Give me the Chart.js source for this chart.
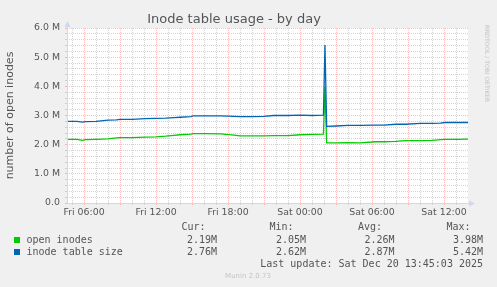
<!DOCTYPE html>
<html>
<head>
<meta charset="utf-8">
<script src="https://cdn.jsdelivr.net/npm/chart.js@4.4.1/dist/chart.umd.min.js"></script>
<style>
  body { margin: 0; background: #F0F0F0; }
  #wrap { width: 497px; height: 287px; }
</style>
</head>
<body>
<div id="wrap"><canvas id="inodeChart" width="497" height="287"></canvas></div>
<script>
// data (hours counted from Fri 00:00, values in millions)
const hours = [4.6, 5.4, 5.9, 6.1, 7, 8, 8.7, 9, 10, 11.1, 12, 12.8, 13.5, 14, 14.9, 15.1, 16, 17.4, 18.5, 19, 20, 21, 21.8, 23, 24, 25, 25.95, 26.08, 26.22, 27, 28, 29, 30.3, 31, 32, 32.8, 34, 35, 35.7, 36.1, 37, 38];
const openInodes = [2.18, 2.18, 2.15, 2.17, 2.18, 2.20, 2.23, 2.24, 2.24, 2.26, 2.27, 2.29, 2.32, 2.34, 2.36, 2.38, 2.38, 2.37, 2.33, 2.30, 2.30, 2.30, 2.31, 2.31, 2.34, 2.35, 2.36, 3.98, 2.06, 2.06, 2.07, 2.06, 2.10, 2.10, 2.11, 2.14, 2.14, 2.15, 2.17, 2.18, 2.18, 2.19];
const tableSize = [2.80, 2.80, 2.77, 2.79, 2.80, 2.84, 2.85, 2.87, 2.87, 2.89, 2.90, 2.91, 2.93, 2.94, 2.96, 2.99, 2.99, 2.99, 2.97, 2.96, 2.96, 2.97, 3.00, 3.00, 3.01, 3.00, 3.01, 5.42, 2.63, 2.64, 2.66, 2.66, 2.67, 2.67, 2.70, 2.70, 2.73, 2.73, 2.74, 2.76, 2.76, 2.76];

const seriesNames = ['open inodes', 'inode table size'];
const seriesColors = ['#00CC00', '#0066B3'];
const statCur = ['2.19M', '2.76M'];
const statMin = ['2.05M', '2.62M'];
const statAvg = ['2.26M', '2.87M'];
const statMax = ['3.98M', '5.42M'];

const xTickHours = [6, 12, 18, 24, 30, 36];
const xTickLabels = ['Fri 06:00', 'Fri 12:00', 'Fri 18:00', 'Sat 00:00', 'Sat 06:00', 'Sat 12:00'];
const yTickLabels = ['0.0', '1.0 M', '2.0 M', '3.0 M', '4.0 M', '5.0 M', '6.0 M'];

const xMin = 4.58, xMax = 38;
const lastUpdate = 'Last update: Sat Dec 20 13:45:03 2025';

Chart.defaults.font.family = 'DejaVu Sans';
Chart.defaults.color = '#666666';

const majorGrid = 'rgba(255, 95, 95, 0.42)';
const minorGrid = 'rgba(170, 170, 170, 0.5)';

function isWhole(v) {
    return Math.abs(v - Math.round(v)) < 1e-6;
}

// white canvas, axis arrows and the munin legend
const muninDecor = {
    id: 'muninDecor',
    beforeDraw(chart) {
        const a = chart.chartArea;
        const ctx = chart.ctx;
        ctx.save();
        ctx.fillStyle = '#FFFFFF';
        ctx.fillRect(a.left, a.top, a.right - a.left, a.bottom - a.top);
        ctx.restore();
    },
    afterDraw(chart) {
        const a = chart.chartArea;
        const ctx = chart.ctx;
        ctx.save();

        // axis lines with arrows
        ctx.strokeStyle = '#CFD6F8';
        ctx.fillStyle = '#CFD6F8';
        ctx.lineWidth = 1;
        ctx.beginPath();
        ctx.moveTo(a.left + 0.5, a.bottom + 0.5);
        ctx.lineTo(a.left + 0.5, a.top - 4);
        ctx.moveTo(a.left, a.bottom + 0.5);
        ctx.lineTo(a.right + 3, a.bottom + 0.5);
        ctx.stroke();
        ctx.beginPath();
        ctx.moveTo(a.left - 2.5, a.top - 1);
        ctx.lineTo(a.left + 3.5, a.top - 1);
        ctx.lineTo(a.left + 0.5, a.top - 7);
        ctx.fill();
        ctx.beginPath();
        ctx.moveTo(a.right + 1, a.bottom - 2.5);
        ctx.lineTo(a.right + 1, a.bottom + 3.5);
        ctx.lineTo(a.right + 7, a.bottom + 0.5);
        ctx.fill();

        // rrdtool watermark
        ctx.save();
        ctx.translate(484, 25);
        ctx.rotate(Math.PI / 2);
        ctx.font = '6px "DejaVu Sans"';
        ctx.fillStyle = '#C4C4C4';
        ctx.textBaseline = 'middle';
        ctx.fillText('RRDTOOL / TOBI OETIKER', 0, -3);
        ctx.restore();

        // legend table
        ctx.font = '10px "DejaVu Sans Mono"';
        ctx.fillStyle = '#555555';
        ctx.textBaseline = 'middle';
        ctx.textAlign = 'left';
        ctx.fillText('Cur:', 181.5, 227.5);
        ctx.fillText('Min:', 269.5, 227.5);
        ctx.fillText('Avg:', 358, 227.5);
        ctx.fillText('Max:', 446.5, 227.5);

        for (let i = 0; i < seriesNames.length; i++) {
            const y = 240 + i * 12;
            ctx.fillStyle = seriesColors[i];
            ctx.fillRect(14, y - 3, 6, 6);
            ctx.fillStyle = '#555555';
            ctx.textAlign = 'left';
            ctx.fillText(seriesNames[i], 26.5, y);
            ctx.textAlign = 'right';
            ctx.fillText(statCur[i], 217, y);
            ctx.fillText(statMin[i], 306, y);
            ctx.fillText(statAvg[i], 394.5, y);
            ctx.fillText(statMax[i], 483, y);
        }
        ctx.textAlign = 'right';
        ctx.fillText(lastUpdate, 483, 264);

        ctx.font = '7px "DejaVu Sans"';
        ctx.fillStyle = '#C4C4C4';
        ctx.textAlign = 'center';
        ctx.fillText('Munin 2.0.73', 248, 276);
        ctx.restore();
    }
};

const ctxInode = document.getElementById('inodeChart').getContext('2d');
const chartInode = new Chart(ctxInode, {
    type: 'line',
    data: {
        datasets: [{
            label: seriesNames[0],
            data: hours.map((h, i) => ({ x: h, y: openInodes[i] })),
            borderColor: seriesColors[0],
            borderWidth: 1.3,
            pointRadius: 0,
            tension: 0,
            order: 1
        }, {
            label: seriesNames[1],
            data: hours.map((h, i) => ({ x: h, y: tableSize[i] })),
            borderColor: seriesColors[1],
            borderWidth: 1.3,
            pointRadius: 0,
            tension: 0,
            order: 0
        }]
    },
    options: {
        responsive: false,
        animation: false,
        layout: { padding: { left: 0, right: 29, top: 0, bottom: 0 } },
        plugins: {
            legend: { display: false },
            tooltip: { enabled: false },
            title: {
                display: true,
                text: 'Inode table usage - by day',
                color: '#555555',
                font: { size: 13, weight: 'normal' },
                padding: { top: 11.5, bottom: 0.9 }
            }
        },
        scales: {
            x: {
                type: 'linear',
                min: xMin,
                max: xMax,
                afterBuildTicks(scale) {
                    const t = [];
                    for (let h = 5; h < xMax; h++) t.push({ value: h });
                    scale.ticks = t;
                },
                afterFit(scale) { scale.height = 84; },
                ticks: {
                    autoSkip: false,
                    maxRotation: 0,
                    padding: 2,
                    font: { size: 9.4 },
                    color: '#555555',
                    callback: function (v) {
                        const i = xTickHours.indexOf(Math.round(v));
                        return i >= 0 && isWhole(v) ? xTickLabels[i] : '';
                    }
                },
                grid: {
                    color: c => (c.tick && c.tick.value % 3 === 0) ? majorGrid : minorGrid,
                    tickColor: c => (c.tick && c.tick.value % 3 === 0) ? majorGrid : minorGrid,
                    tickLength: 2
                },
                border: { display: false, dash: [1, 1] }
            },
            y: {
                min: 0,
                max: 6,
                afterBuildTicks(scale) {
                    const t = [];
                    for (let k = 0; k <= 30; k++) t.push({ value: k / 5 });
                    scale.ticks = t;
                },
                afterFit(scale) { scale.width = 67; },
                ticks: {
                    autoSkip: false,
                    padding: 5,
                    font: { size: 9.4 },
                    color: '#555555',
                    callback: v => isWhole(v) ? yTickLabels[Math.round(v)] : ''
                },
                grid: {
                    color: c => (c.tick && isWhole(c.tick.value)) ? majorGrid : minorGrid,
                    tickColor: c => (c.tick && isWhole(c.tick.value)) ? majorGrid : minorGrid,
                    tickLength: 2
                },
                border: { display: false, dash: [1, 1] },
                title: {
                    display: true,
                    text: 'number of open inodes',
                    color: '#555555',
                    font: { size: 11 },
                    padding: { top: 4, bottom: 0 }
                }
            }
        }
    },
    plugins: [muninDecor]
});
</script>
</body>
</html>
